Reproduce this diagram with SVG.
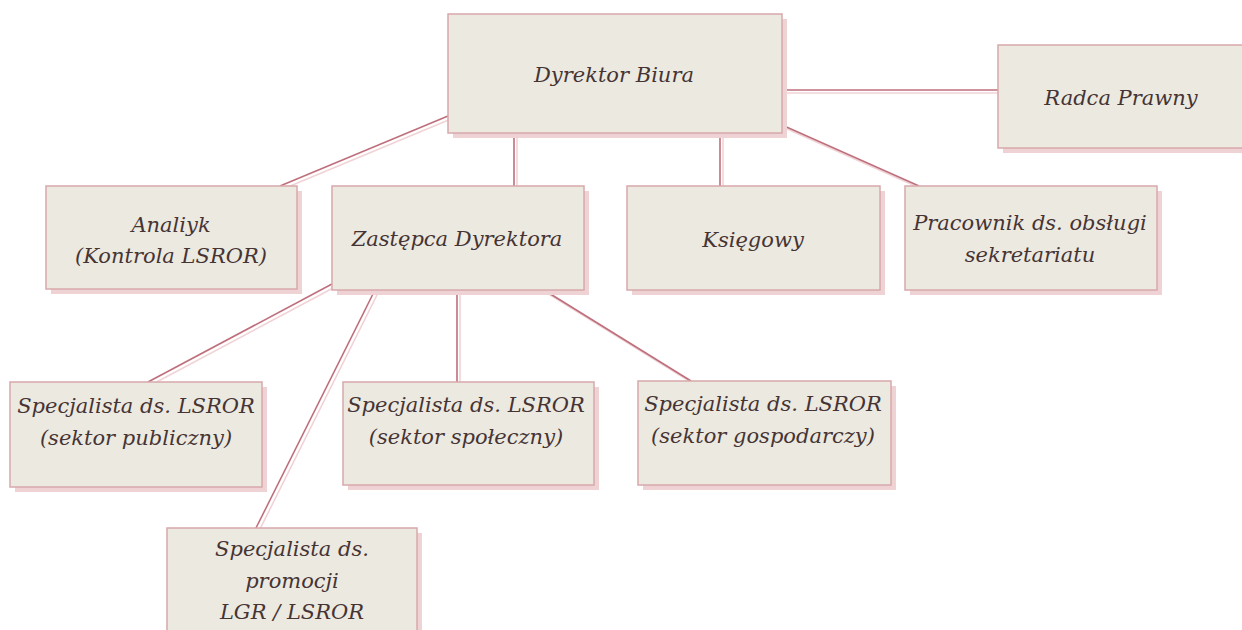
<svg xmlns="http://www.w3.org/2000/svg" width="1242" height="630" viewBox="0 0 1242 630">
<style>
.box{fill:#ECE9E0;stroke:#D8A8AC;stroke-width:1.5}
.shadow{fill:#EFD3D4}
.ln{stroke:#BF6F7C;stroke-width:1.6;fill:none}
.lns{stroke:#F0D3D6;stroke-width:1.6;fill:none}
text{font-family:"DejaVu Serif","Liberation Serif",serif;font-style:italic;font-size:21px;fill:#463434;text-anchor:middle}
</style>
<rect width="1242" height="630" fill="#FFFFFF"/>
<g id="connectors">
<g transform="translate(3,3)">
<line class="lns" x1="782" y1="90" x2="998" y2="90"/>
<line class="lns" x1="448" y1="116" x2="280" y2="186"/>
<line class="lns" x1="514" y1="133" x2="514" y2="186"/>
<line class="lns" x1="720" y1="133" x2="720" y2="186"/>
<line class="lns" x1="782" y1="125" x2="919" y2="186"/>
<line class="lns" x1="332" y1="284" x2="148" y2="382"/>
<line class="lns" x1="375" y1="290" x2="256" y2="528"/>
<line class="lns" x1="457" y1="290" x2="457" y2="382"/>
<line class="lns" x1="544" y1="290" x2="691" y2="381"/>
</g>
<line class="ln" x1="782" y1="90" x2="998" y2="90"/>
<line class="ln" x1="448" y1="116" x2="280" y2="186"/>
<line class="ln" x1="514" y1="133" x2="514" y2="186"/>
<line class="ln" x1="720" y1="133" x2="720" y2="186"/>
<line class="ln" x1="782" y1="125" x2="919" y2="186"/>
<line class="ln" x1="332" y1="284" x2="148" y2="382"/>
<line class="ln" x1="375" y1="290" x2="256" y2="528"/>
<line class="ln" x1="457" y1="290" x2="457" y2="382"/>
<line class="ln" x1="544" y1="290" x2="691" y2="381"/>
</g>
<g id="dyrektor">
<rect class="shadow" x="453" y="19" width="334" height="119"/>
<rect class="box" x="448" y="14" width="334" height="119"/>
<text x="614" y="82">Dyrektor Biura</text>
</g>
<g id="radca">
<rect class="shadow" x="1003" y="50" width="245" height="103"/>
<rect class="box" x="998" y="45" width="245" height="103"/>
<text x="1121" y="105">Radca Prawny</text>
</g>
<g id="analityk">
<rect class="shadow" x="51" y="191" width="251" height="103"/>
<rect class="box" x="46" y="186" width="251" height="103"/>
<text x="171" y="232">Analiyk</text>
<text x="171" y="263">(Kontrola LSROR)</text>
</g>
<g id="zastepca">
<rect class="shadow" x="337" y="191" width="252" height="104"/>
<rect class="box" x="332" y="186" width="252" height="104"/>
<text x="457" y="246">Zastępca Dyrektora</text>
</g>
<g id="ksiegowy">
<rect class="shadow" x="632" y="191" width="253" height="104"/>
<rect class="box" x="627" y="186" width="253" height="104"/>
<text x="753" y="247">Księgowy</text>
</g>
<g id="pracownik">
<rect class="shadow" x="910" y="191" width="252" height="104"/>
<rect class="box" x="905" y="186" width="252" height="104"/>
<text x="1030" y="230">Pracownik ds. obsługi</text>
<text x="1030" y="262">sekretariatu</text>
</g>
<g id="spec-publiczny">
<rect class="shadow" x="15" y="387" width="252" height="105"/>
<rect class="box" x="10" y="382" width="252" height="105"/>
<text x="136" y="413">Specjalista ds. LSROR</text>
<text x="136" y="445">(sektor publiczny)</text>
</g>
<g id="spec-spoleczny">
<rect class="shadow" x="348" y="387" width="251" height="103"/>
<rect class="box" x="343" y="382" width="251" height="103"/>
<text x="466" y="412">Specjalista ds. LSROR</text>
<text x="466" y="444">(sektor społeczny)</text>
</g>
<g id="spec-gospodarczy">
<rect class="shadow" x="643" y="386" width="253" height="104"/>
<rect class="box" x="638" y="381" width="253" height="104"/>
<text x="763" y="411">Specjalista ds. LSROR</text>
<text x="763" y="443">(sektor gospodarczy)</text>
</g>
<g id="spec-promocji">
<rect class="shadow" x="172" y="533" width="250" height="110"/>
<rect class="box" x="167" y="528" width="250" height="110"/>
<text x="292" y="556">Specjalista ds.</text>
<text x="292" y="588">promocji</text>
<text x="292" y="619">LGR / LSROR</text>
</g>
</svg>
